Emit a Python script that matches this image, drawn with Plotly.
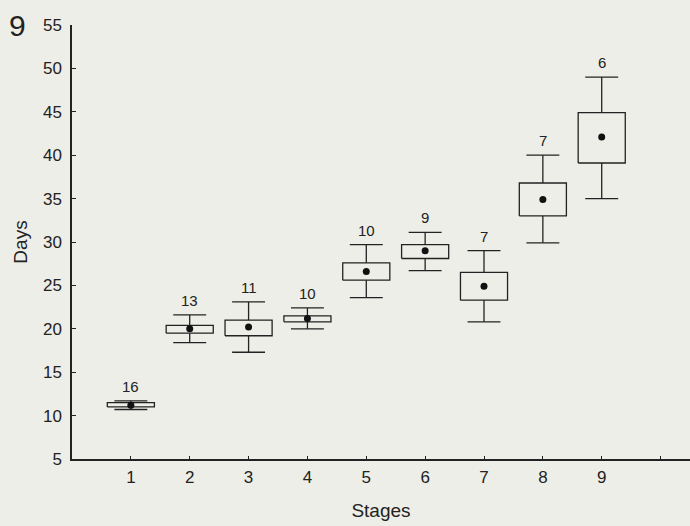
import plotly.graph_objects as go

stages = [1, 2, 3, 4, 5, 6, 7, 8, 9]
counts = [16, 13, 11, 10, 10, 9, 7, 7, 6]
means = [11.2, 20.0, 20.2, 21.2, 26.6, 29.0, 24.9, 34.9, 42.1]
box_low = [11.0, 19.5, 19.2, 20.8, 25.6, 28.1, 23.3, 33.0, 39.1]
box_high = [11.5, 20.4, 21.0, 21.5, 27.6, 29.7, 26.5, 36.8, 44.9]
whisk_low = [10.7, 18.4, 17.3, 20.0, 23.6, 26.7, 20.8, 29.9, 35.0]
whisk_high = [11.7, 21.6, 23.1, 22.4, 29.7, 31.1, 29.0, 40.0, 49.0]

x_ticks = [1, 2, 3, 4, 5, 6, 7, 8, 9, 10]
x_tick_labels = ["1", "2", "3", "4", "5", "6", "7", "8", "9", ""]
y_ticks = [5, 10, 15, 20, 25, 30, 35, 40, 45, 50, 55]

BG = "#eeeee8"
INK = "#222222"
FONT = "Liberation Sans"
box_half = 0.40
cap_half = 0.28

fig = go.Figure()

# boxes
bx, by = [], []
for s, lo, hi in zip(stages, box_low, box_high):
    bx += [s - box_half, s + box_half, s + box_half, s - box_half, s - box_half, None]
    by += [lo, lo, hi, hi, lo, None]
fig.add_trace(go.Scatter(x=bx, y=by, mode="lines", line=dict(color=INK, width=1.3),
                         hoverinfo="skip", showlegend=False))

# whiskers and caps
wx, wy = [], []
for s, lo, hi, wl, wh in zip(stages, box_low, box_high, whisk_low, whisk_high):
    wx += [s, s, None, s, s, None]
    wy += [hi, wh, None, lo, wl, None]
    wx += [s - cap_half, s + cap_half, None, s - cap_half, s + cap_half, None]
    wy += [wh, wh, None, wl, wl, None]
fig.add_trace(go.Scatter(x=wx, y=wy, mode="lines", line=dict(color=INK, width=1.3),
                         hoverinfo="skip", showlegend=False))

# means
fig.add_trace(go.Scatter(x=stages, y=means, mode="markers",
                         marker=dict(color="#111111", size=7),
                         showlegend=False))

# counts
for s, wh, n in zip(stages, whisk_high, counts):
    fig.add_annotation(x=s, y=wh, text=str(n), showarrow=False, yanchor="bottom",
                       yshift=4, font=dict(family=FONT, size=15, color=INK))

fig.add_annotation(xref="paper", yref="paper", x=-0.088, y=1.0, xanchor="center",
                   yanchor="middle", text="9", showarrow=False,
                   font=dict(family=FONT, size=30, color=INK))

fig.update_layout(
    width=690, height=526,
    margin=dict(l=72, r=0, t=25, b=67),
    paper_bgcolor=BG, plot_bgcolor=BG,
    font=dict(family=FONT, color=INK),
    xaxis=dict(range=[0, 10.5], tickvals=x_ticks, ticktext=x_tick_labels,
               showgrid=False, zeroline=False, showline=True, linecolor=INK, linewidth=1.5,
               ticks="inside", ticklen=3, tickcolor=INK, ticklabelstandoff=2,
               tickfont=dict(size=17, family=FONT, color=INK),
               title=dict(text="Stages", font=dict(size=19, family=FONT, color=INK), standoff=18)),
    yaxis=dict(range=[5, 55], tickvals=y_ticks,
               showgrid=False, zeroline=False, showline=True, linecolor=INK, linewidth=1.5,
               ticks="inside", ticklen=4, tickcolor=INK, ticklabelstandoff=5,
               tickfont=dict(size=17, family=FONT, color=INK),
               title=dict(text="Days", font=dict(size=19, family=FONT, color=INK), standoff=10)),
)

fig.write_html("out.html")
